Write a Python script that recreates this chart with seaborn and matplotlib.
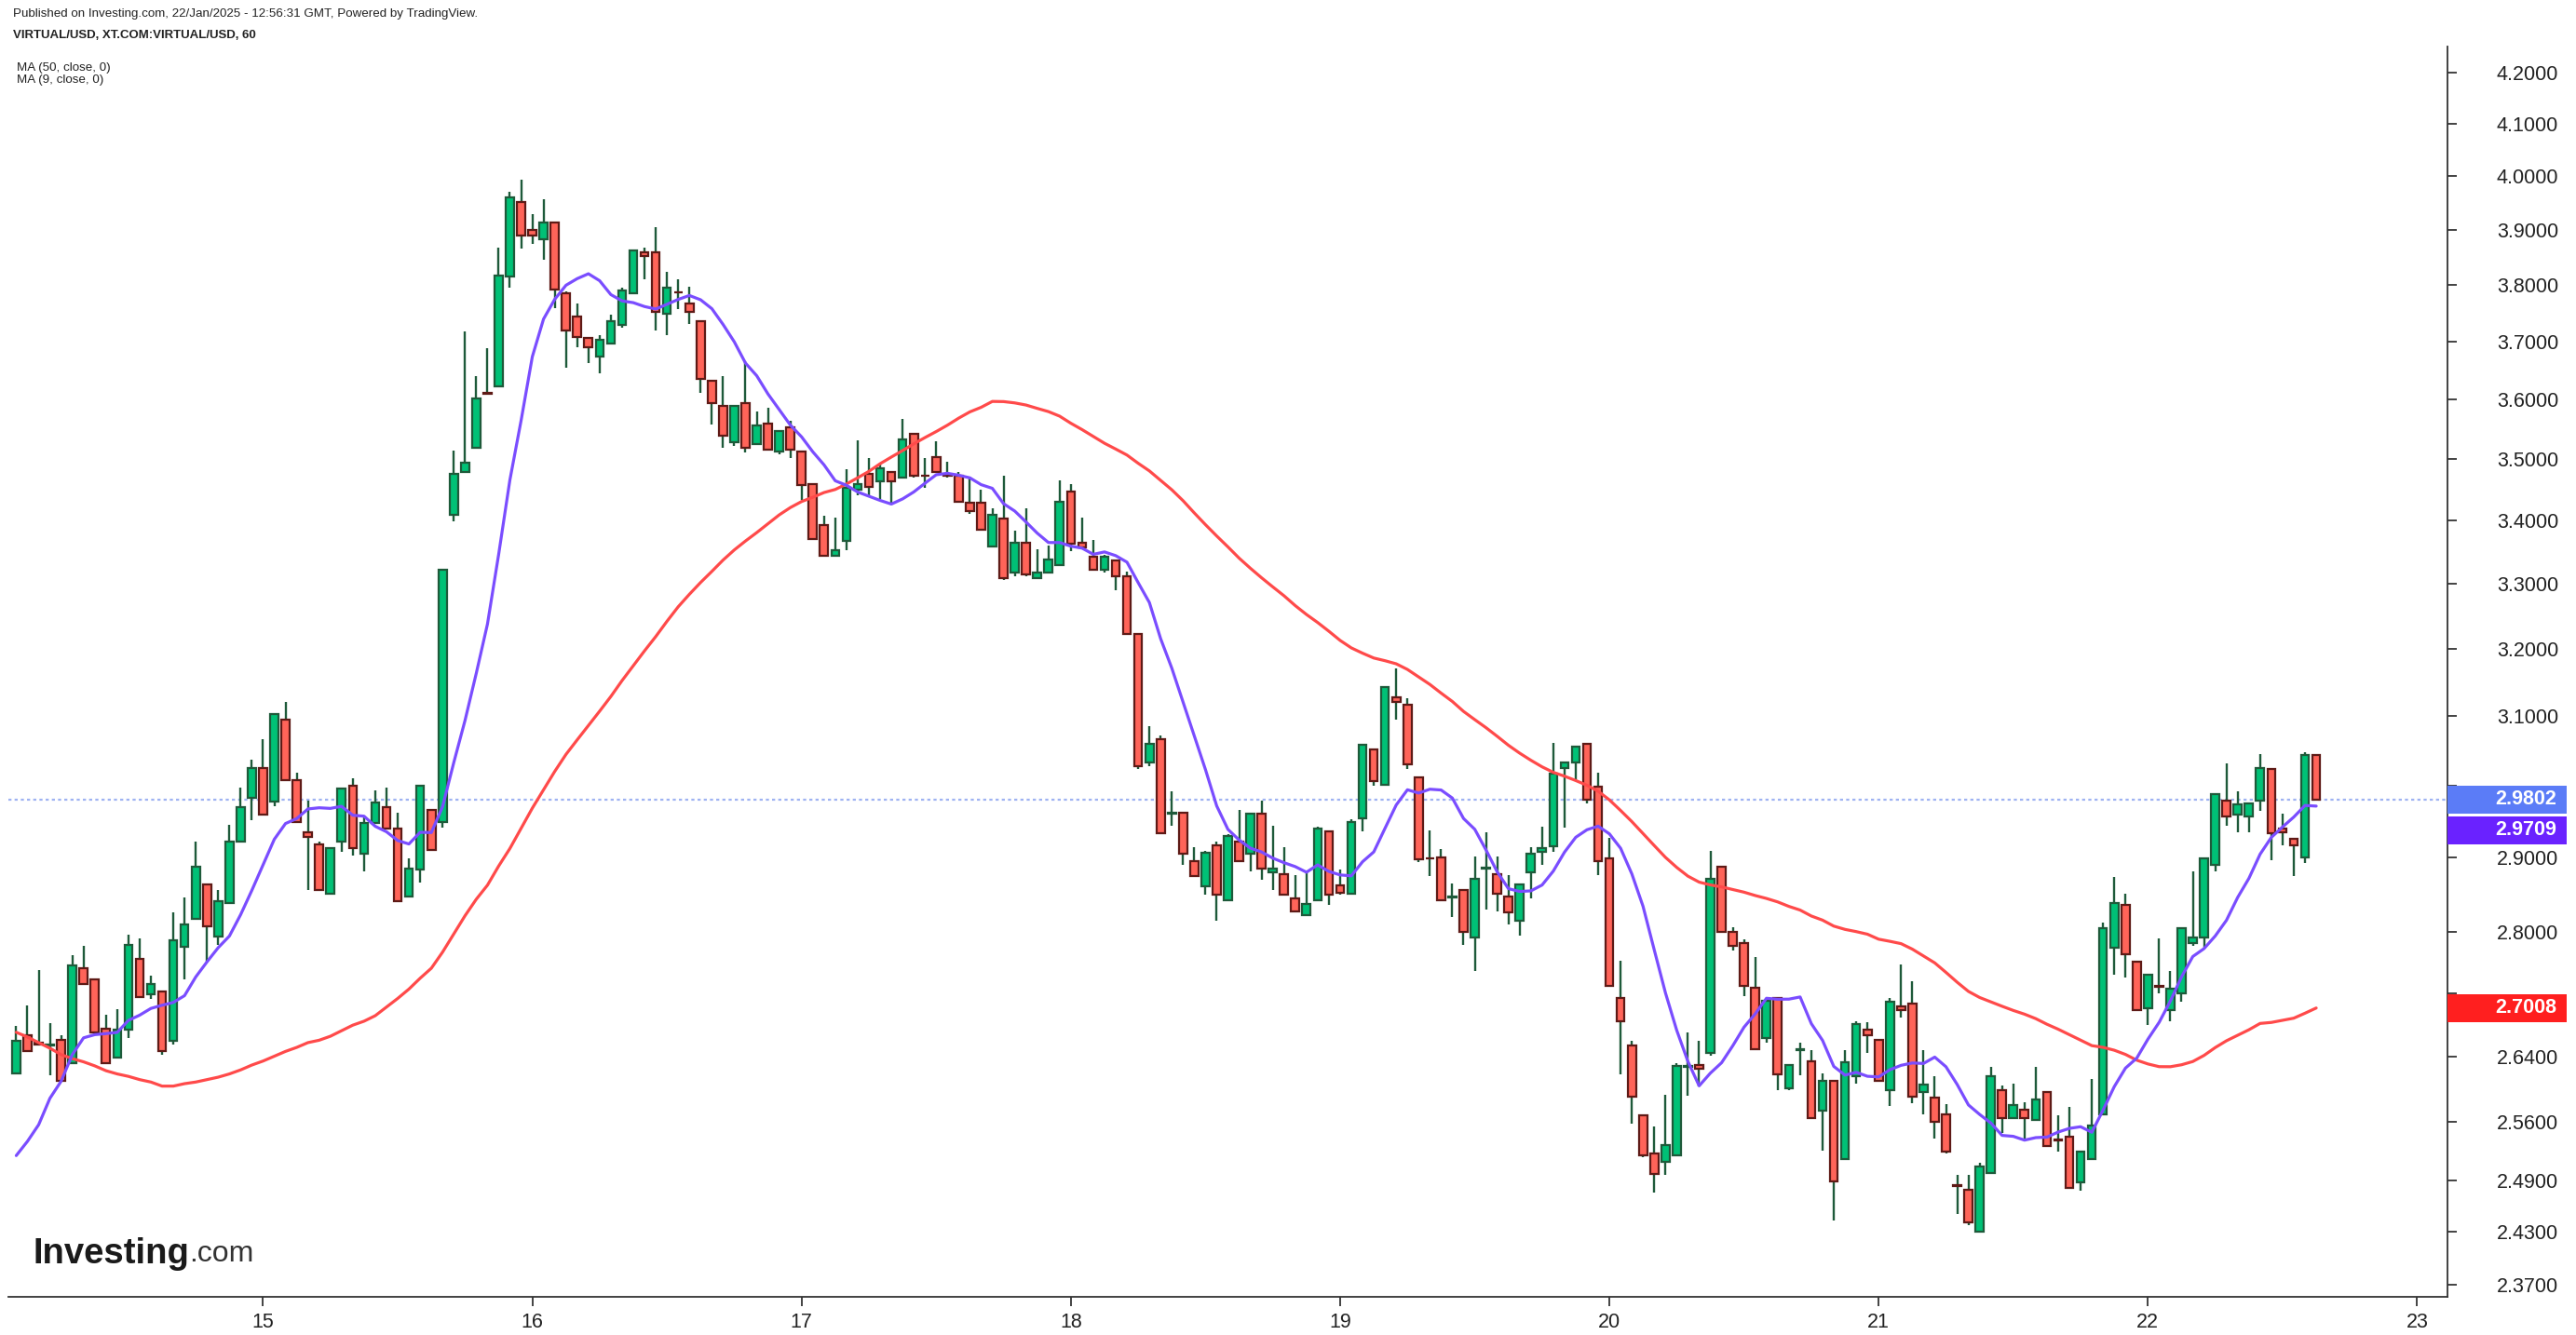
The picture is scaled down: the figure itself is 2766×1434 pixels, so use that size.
import numpy as np
import pandas as pd
import matplotlib
matplotlib.use("Agg")
import matplotlib.pyplot as plt
from matplotlib.patches import Rectangle
import seaborn as sns

# ---------------- data (hourly candles, VIRTUAL/USD) ----------------
start_time = "2025-01-14 02:00"
opens = [2.619, 2.666, 2.657, 2.654, 2.661, 2.631, 2.752, 2.737, 2.675, 2.638,
         2.673, 2.764, 2.718, 2.722, 2.659, 2.780, 2.817, 2.863, 2.793, 2.838,
         2.921, 2.983, 3.025, 2.977, 3.095, 3.007, 2.934, 2.918, 2.850, 2.921,
         2.999, 2.905, 2.947, 2.970, 2.939, 2.847, 2.883, 2.965, 2.949, 3.409,
         3.478, 3.519, 3.611, 3.622, 3.815, 3.952, 3.900, 3.883, 3.914, 3.784,
         3.743, 3.706, 3.673, 3.696, 3.728, 3.785, 3.859, 3.859, 3.749, 3.787,
         3.766, 3.736, 3.632, 3.588, 3.528, 3.594, 3.525, 3.559, 3.512, 3.553,
         3.513, 3.458, 3.392, 3.344, 3.367, 3.449, 3.476, 3.463, 3.479, 3.470,
         3.541, 3.473, 3.503, 3.474, 3.472, 3.428, 3.428, 3.359, 3.403, 3.317,
         3.364, 3.308, 3.317, 3.329, 3.446, 3.364, 3.342, 3.321, 3.336, 3.312,
         3.223, 3.033, 3.066, 2.960, 2.962, 2.895, 2.860, 2.916, 2.842, 2.921,
         2.905, 2.960, 2.880, 2.877, 2.844, 2.822, 2.842, 2.936, 2.862, 2.850,
         2.954, 3.052, 3.001, 3.128, 3.117, 3.011, 2.899, 2.900, 2.846, 2.855,
         2.792, 2.885, 2.877, 2.847, 2.815, 2.880, 2.907, 2.915, 3.025, 3.033,
         3.060, 2.998, 2.898, 2.713, 2.654, 2.567, 2.522, 2.512, 2.519, 2.627,
         2.629, 2.644, 2.887, 2.800, 2.785, 2.727, 2.663, 2.713, 2.600, 2.648,
         2.634, 2.573, 2.610, 2.515, 2.615, 2.673, 2.661, 2.598, 2.703, 2.706,
         2.596, 2.589, 2.569, 2.484, 2.479, 2.430, 2.498, 2.598, 2.564, 2.574,
         2.562, 2.596, 2.538, 2.541, 2.487, 2.515, 2.569, 2.779, 2.835, 2.761,
         2.700, 2.729, 2.698, 2.720, 2.785, 2.792, 2.890, 2.978, 2.959, 2.956,
         2.978, 3.023, 2.939, 2.926, 2.900, 3.044]
highs = [2.678, 2.704, 2.750, 2.682, 2.666, 2.769, 2.781, 2.738, 2.692, 2.699,
         2.796, 2.791, 2.742, 2.723, 2.825, 2.845, 2.922, 2.864, 2.855, 2.945,
         2.997, 3.037, 3.066, 3.104, 3.121, 3.018, 2.979, 2.922, 2.914, 2.997,
         3.010, 2.957, 2.993, 2.997, 2.961, 2.898, 3.001, 2.966, 3.322, 3.514,
         3.717, 3.640, 3.688, 3.867, 3.970, 3.994, 3.928, 3.956, 3.915, 3.788,
         3.766, 3.707, 3.711, 3.747, 3.795, 3.863, 3.867, 3.905, 3.823, 3.810,
         3.796, 3.737, 3.633, 3.639, 3.589, 3.666, 3.579, 3.586, 3.548, 3.563,
         3.514, 3.459, 3.407, 3.404, 3.483, 3.531, 3.501, 3.493, 3.480, 3.567,
         3.542, 3.501, 3.529, 3.495, 3.479, 3.470, 3.450, 3.419, 3.473, 3.384,
         3.419, 3.354, 3.360, 3.465, 3.459, 3.404, 3.368, 3.345, 3.337, 3.318,
         3.224, 3.085, 3.072, 2.992, 2.963, 2.914, 2.909, 2.921, 2.932, 2.966,
         2.961, 2.979, 2.944, 2.914, 2.876, 2.880, 2.942, 2.937, 2.883, 2.952,
         3.059, 3.053, 3.143, 3.170, 3.126, 3.012, 2.937, 2.911, 2.864, 2.856,
         2.901, 2.934, 2.901, 2.876, 2.864, 2.914, 2.942, 3.061, 3.034, 3.056,
         3.061, 3.018, 2.927, 2.762, 2.659, 2.568, 2.554, 2.592, 2.631, 2.670,
         2.659, 2.909, 2.888, 2.806, 2.790, 2.767, 2.711, 2.714, 2.630, 2.657,
         2.648, 2.619, 2.611, 2.648, 2.684, 2.683, 2.662, 2.714, 2.757, 2.735,
         2.648, 2.615, 2.581, 2.496, 2.496, 2.511, 2.627, 2.604, 2.606, 2.583,
         2.627, 2.597, 2.567, 2.578, 2.525, 2.612, 2.812, 2.873, 2.851, 2.762,
         2.745, 2.791, 2.748, 2.806, 2.881, 2.899, 2.989, 3.032, 2.992, 2.976,
         3.045, 3.024, 2.960, 2.927, 3.048, 3.045]
lows = [2.617, 2.646, 2.654, 2.616, 2.609, 2.630, 2.731, 2.669, 2.630, 2.637,
        2.663, 2.714, 2.712, 2.642, 2.655, 2.738, 2.816, 2.760, 2.782, 2.837,
        2.920, 2.951, 2.958, 2.971, 3.006, 2.948, 2.856, 2.854, 2.849, 2.907,
        2.902, 2.881, 2.946, 2.938, 2.839, 2.846, 2.865, 2.909, 2.941, 3.399,
        3.477, 3.518, 3.609, 3.621, 3.794, 3.865, 3.874, 3.845, 3.758, 3.654,
        3.690, 3.662, 3.644, 3.695, 3.724, 3.784, 3.810, 3.718, 3.711, 3.757,
        3.731, 3.611, 3.558, 3.518, 3.521, 3.511, 3.524, 3.514, 3.508, 3.502,
        3.433, 3.369, 3.343, 3.343, 3.352, 3.441, 3.441, 3.435, 3.429, 3.469,
        3.469, 3.453, 3.477, 3.469, 3.429, 3.411, 3.384, 3.358, 3.305, 3.311,
        3.311, 3.307, 3.316, 3.328, 3.351, 3.356, 3.320, 3.317, 3.290, 3.222,
        3.024, 3.027, 2.932, 2.943, 2.889, 2.874, 2.849, 2.814, 2.841, 2.894,
        2.881, 2.869, 2.856, 2.848, 2.826, 2.821, 2.841, 2.836, 2.849, 2.849,
        2.936, 3.000, 3.000, 3.094, 3.024, 2.894, 2.874, 2.841, 2.819, 2.782,
        2.748, 2.829, 2.827, 2.809, 2.795, 2.844, 2.889, 2.907, 2.941, 3.007,
        2.974, 2.876, 2.728, 2.618, 2.557, 2.517, 2.475, 2.496, 2.518, 2.591,
        2.603, 2.641, 2.799, 2.775, 2.716, 2.648, 2.657, 2.598, 2.598, 2.616,
        2.563, 2.525, 2.443, 2.514, 2.606, 2.644, 2.609, 2.579, 2.689, 2.582,
        2.568, 2.539, 2.521, 2.451, 2.438, 2.429, 2.497, 2.546, 2.563, 2.537,
        2.561, 2.529, 2.524, 2.480, 2.478, 2.514, 2.568, 2.743, 2.740, 2.697,
        2.679, 2.719, 2.684, 2.709, 2.781, 2.777, 2.881, 2.943, 2.935, 2.935,
        2.964, 2.896, 2.917, 2.874, 2.892, 2.979]
closes = [2.659, 2.647, 2.655, 2.655, 2.610, 2.756, 2.732, 2.670, 2.631, 2.673,
          2.783, 2.715, 2.732, 2.647, 2.788, 2.810, 2.887, 2.807, 2.840, 2.921,
          2.970, 3.025, 2.959, 3.103, 3.007, 2.949, 2.928, 2.855, 2.913, 2.996,
          2.913, 2.947, 2.976, 2.939, 2.840, 2.885, 3.000, 2.910, 3.321, 3.476,
          3.494, 3.601, 3.610, 3.816, 3.960, 3.890, 3.890, 3.914, 3.792, 3.719,
          3.708, 3.689, 3.703, 3.736, 3.789, 3.862, 3.852, 3.752, 3.795, 3.786,
          3.752, 3.634, 3.594, 3.538, 3.588, 3.519, 3.556, 3.515, 3.547, 3.516,
          3.457, 3.370, 3.344, 3.353, 3.452, 3.458, 3.454, 3.485, 3.463, 3.532,
          3.472, 3.472, 3.478, 3.473, 3.430, 3.415, 3.385, 3.409, 3.308, 3.364,
          3.315, 3.317, 3.338, 3.430, 3.363, 3.357, 3.321, 3.342, 3.311, 3.223,
          3.028, 3.060, 2.933, 2.961, 2.905, 2.875, 2.906, 2.849, 2.929, 2.895,
          2.960, 2.885, 2.885, 2.849, 2.827, 2.837, 2.939, 2.849, 2.852, 2.949,
          3.058, 3.006, 3.142, 3.120, 3.030, 2.897, 2.898, 2.842, 2.847, 2.800,
          2.871, 2.886, 2.850, 2.825, 2.863, 2.905, 2.913, 3.017, 3.033, 3.055,
          2.980, 2.895, 2.729, 2.684, 2.590, 2.519, 2.497, 2.531, 2.628, 2.628,
          2.624, 2.870, 2.800, 2.781, 2.729, 2.649, 2.710, 2.617, 2.629, 2.649,
          2.564, 2.610, 2.489, 2.632, 2.680, 2.666, 2.610, 2.709, 2.698, 2.590,
          2.605, 2.560, 2.524, 2.483, 2.441, 2.506, 2.615, 2.564, 2.580, 2.564,
          2.587, 2.530, 2.537, 2.481, 2.524, 2.555, 2.805, 2.838, 2.770, 2.698,
          2.744, 2.728, 2.725, 2.805, 2.792, 2.898, 2.988, 2.957, 2.973, 2.975,
          3.025, 2.933, 2.935, 2.916, 3.044, 2.9802]
# moving-average values at the left edge (their history lies before the window)
ma9_head = [2.519, 2.536, 2.556, 2.588, 2.609, 2.642, 2.663, 2.667]
ma50_head = [2.670, 2.664, 2.657, 2.650, 2.642, 2.637, 2.633, 2.628, 2.622, 2.618,
             2.615, 2.611, 2.608, 2.603, 2.603, 2.606, 2.608, 2.611, 2.614, 2.618,
             2.623, 2.629, 2.634, 2.640, 2.646, 2.651, 2.657, 2.660, 2.665, 2.672,
             2.679, 2.684, 2.691, 2.702, 2.713, 2.725, 2.739, 2.752, 2.773, 2.797,
             2.821, 2.843, 2.862, 2.888, 2.912, 2.940, 2.968, 2.994, 3.020]
day_labels = ["15", "16", "17", "18", "19", "20", "21", "22", "23"]
ytick_values = [2.37, 2.43, 2.49, 2.56, 2.64, 2.72, 2.80, 2.90, 3.00, 3.10, 3.20,
                3.30, 3.40, 3.50, 3.60, 3.70, 3.80, 3.90, 4.00, 4.10, 4.20]
header_lines = ["Published on Investing.com, 22/Jan/2025 - 12:56:31 GMT, Powered by TradingView.",
                "VIRTUAL/USD, XT.COM:VIRTUAL/USD, 60",
                "MA (50, close, 0)",
                "MA (9, close, 0)"]

# ---------------- frame ----------------
n = len(closes)
df = pd.DataFrame({"t": pd.date_range(start_time, periods=n, freq="h"),
                   "open": opens, "high": highs, "low": lows, "close": closes})
df["i"] = np.arange(n)
df["ma9"] = df["close"].rolling(9).mean()
df.loc[:len(ma9_head) - 1, "ma9"] = ma9_head
df["ma50"] = df["close"].rolling(50).mean()
df.loc[:len(ma50_head) - 1, "ma50"] = ma50_head
first_midnight = int(((df["t"].dt.normalize() + pd.Timedelta(days=1))[0] - df["t"][0]) / pd.Timedelta(hours=1))
day_pos = [first_midnight + 24 * k for k in range(len(day_labels))]

sns.set_theme(style="white")
plt.rcParams["font.family"] = ["Liberation Sans", "DejaVu Sans"]

W, H = 2766, 1434
fig = plt.figure(figsize=(W / 100, H / 100), dpi=100)
fig.patch.set_facecolor("white")
L, R, T, B = 9, 2628, 50, 1393
ax = fig.add_axes([L / W, 1 - B / H, (R - L) / W, (B - T) / H])
ax.set_facecolor("white")
ax.set_yscale("log")

GREEN, RED = "#00c176", "#ff6459"
GEDGE, REDGE = "#1e5a3a", "#5e1a16"
up = df["close"] >= df["open"]
ax.vlines(df["i"], df["low"], df["high"], color=GEDGE, lw=1.7, zorder=2)
bot = np.minimum(df["open"], df["close"])
hgt = np.abs(df["close"] - df["open"])
ax.bar(df["i"][up], hgt[up], bottom=bot[up], width=0.72, color=GREEN,
       edgecolor=GEDGE, linewidth=1.6, zorder=3)
ax.bar(df["i"][~up], hgt[~up], bottom=bot[~up], width=0.72, color=RED,
       edgecolor=REDGE, linewidth=1.6, zorder=3)

MA9C, MA50C = "#7a4dff", "#ff4a4a"
sns.lineplot(data=df, x="i", y="ma50", ax=ax, color=MA50C, lw=2.3, zorder=4, legend=False)
sns.lineplot(data=df, x="i", y="ma9", ax=ax, color=MA9C, lw=2.3, zorder=5, legend=False)

last = df["close"].iloc[-1]
ax.axhline(last, color="#9fb3f2", ls=(0, (1.5, 1.5)), lw=1.6, zorder=1)

ax.set_xlim(-0.7, 216.7)
ax.set_ylim(2.3565, 4.2523)
ax.set_xlabel("")
ax.set_ylabel("")

# labels hidden behind the price tags (as on the reference)
hidden = {2.72, 3.00}
ax.yaxis.tick_right()
ax.set_yticks(ytick_values)
ax.set_yticklabels(["" if v in hidden else f"{v:.4f}" for v in ytick_values])
ax.yaxis.set_minor_locator(matplotlib.ticker.NullLocator())
ax.set_xticks(day_pos)
ax.set_xticklabels(day_labels)
ax.tick_params(axis="y", which="major", direction="out", length=7, width=1.2,
               colors="#222222", labelsize=15.5, pad=31, right=True, left=False)
ax.tick_params(axis="x", which="major", direction="out", length=7, width=1.2,
               colors="#222222", labelsize=15.5, pad=5, bottom=True)
for s in ["top", "left"]:
    ax.spines[s].set_visible(False)
for s in ["bottom", "right"]:
    ax.spines[s].set_color("#333333")
    ax.spines[s].set_linewidth(1.3)
ax.grid(False)

# price tags on right axis
def fig_y(p):
    return fig.transFigure.inverted().transform(ax.transData.transform((0, p)))[1]

hh = 30 / H
y_last = fig_y(last)
y_ma9 = min(fig_y(df["ma9"].iloc[-1]), y_last - 33 / H)
y_ma50 = fig_y(df["ma50"].iloc[-1])
tags = [(last, "#5b7cf7", y_last), (df["ma9"].iloc[-1], "#6a22ff", y_ma9),
        (df["ma50"].iloc[-1], "#ff1f1f", y_ma50)]
for val, col, yc in tags:
    fig.add_artist(Rectangle((R / W, yc - hh / 2), 128 / W, hh, transform=fig.transFigure,
                             facecolor=col, edgecolor="none", zorder=10))
    fig.text(2679 / W, yc, f"{val:.4f}", color="white", fontsize=15.5, fontweight="bold",
             va="center", ha="left", zorder=11)

# header
fig.text(14 / W, 1 - 15 / H, header_lines[0], fontsize=9.6, color="#222222", va="center")
fig.text(14 / W, 1 - 38 / H, header_lines[1], fontsize=9.5, fontweight="bold", color="#222222", va="center")
fig.text(18 / W, 1 - 73 / H, header_lines[2], fontsize=9.6, color="#222222", va="center")
fig.text(18 / W, 1 - 86 / H, header_lines[3], fontsize=9.6, color="#222222", va="center")

# watermark
t1 = fig.text(35 / W, 1 - 1347 / H, "Investing", fontsize=27.5, fontweight="bold",
              color="#1a1a1a", va="center", ha="left")
fig.canvas.draw()
bb = t1.get_window_extent()
fig.text(bb.x1 / W, 1 - 1347 / H, ".com", fontsize=23, color="#333333", va="center", ha="left")

fig.savefig("out.png", dpi=100)
print(df["ma50"].iloc[-1], df["ma9"].iloc[-1])
